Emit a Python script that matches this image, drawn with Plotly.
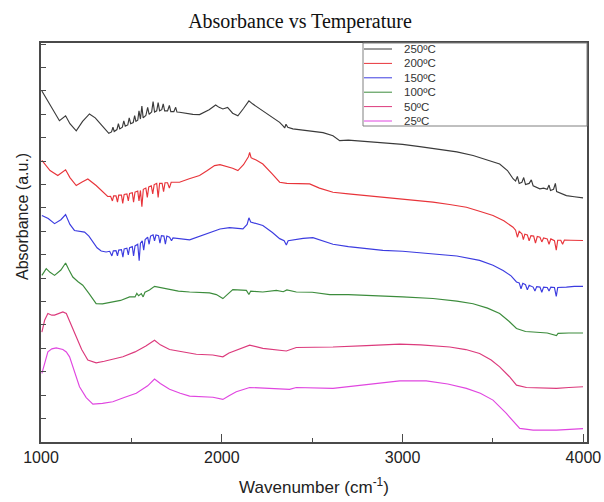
import plotly.graph_objects as go

# ---------------- data ----------------
names = ["250ºC", "200ºC", "150ºC", "100ºC", "50ºC", "25ºC"]
colors = ["#3a3a3a", "#e8343a", "#3c3ce0", "#3c8c3c", "#dc3a7c", "#e046e0"]

wn_250 = [1005, 1050, 1102, 1136, 1160, 1195, 1230, 1268, 1300, 1340, 1375,
          1390, 1398, 1405, 1420, 1428, 1436, 1450, 1458, 1466, 1480, 1488, 1496, 1510, 1518, 1525,
          1535, 1542, 1550, 1558, 1565, 1580, 1590, 1598, 1612, 1620, 1628, 1640, 1648, 1656,
          1668, 1676, 1684, 1700, 1710, 1718, 1735, 1745, 1752, 1766,
          1800, 1840, 1877, 1930, 1966, 1985, 2006, 2032, 2060, 2089, 2120, 2150, 2170, 2227,
          2280, 2320, 2340, 2348, 2355, 2365, 2393, 2450, 2504, 2560, 2615, 2652, 2700, 2800,
          2900, 3000, 3095, 3200, 3300, 3390, 3470, 3537, 3580, 3611,
          3625, 3635, 3645, 3660, 3670, 3680, 3700, 3712, 3722, 3740, 3759, 3780, 3800, 3810,
          3818, 3835, 3845, 3852, 3870, 3906, 3950, 3998]
abs_250 = [15.0, 14.4, 13.73, 13.94, 13.6, 13.30, 13.7, 14.02, 13.85, 13.5, 13.19,
           13.25, 13.45, 13.27, 13.35, 13.6, 13.38, 13.45, 13.72, 13.5, 13.55, 13.85, 13.6, 13.65, 13.95, 13.7,
           13.75, 14.15, 13.8, 14.35, 13.85, 13.95, 14.3, 14.0, 14.1, 14.55, 14.1, 14.15, 14.5, 14.15,
           14.2, 14.45, 14.15, 14.15, 14.38, 14.12, 14.12, 14.3, 14.1, 14.09,
           14.05, 14.0, 13.99, 14.2, 14.40, 14.3, 14.23, 14.30, 14.05, 13.94, 14.25, 14.58, 14.45, 14.16,
           13.9, 13.66, 13.5, 13.42, 13.58, 13.45, 13.38, 13.33, 13.30, 13.22, 13.09, 12.88, 12.9, 12.84,
           12.75, 12.72, 12.62, 12.5, 12.4, 12.24, 12.05, 11.88, 11.6, 11.25,
           11.15, 11.35, 11.05, 11.1, 11.3, 11.0, 11.05, 11.2, 10.95, 10.9, 10.82, 10.85, 10.8, 10.98,
           10.75, 10.8, 11.05, 10.7, 10.65, 10.53, 10.48, 10.43]

wn_200 = [1005, 1050, 1093, 1136, 1160, 1195, 1225, 1259, 1305, 1340, 1369,
          1385, 1395, 1402, 1415, 1423, 1430, 1445, 1452, 1460, 1475, 1483, 1490, 1505, 1512, 1520,
          1535, 1542, 1550, 1558, 1566, 1580, 1588, 1596, 1610, 1618, 1626, 1640, 1648, 1656,
          1670, 1678, 1686, 1700, 1710, 1720, 1766,
          1820, 1877, 1920, 1960, 1990, 2025, 2060, 2089, 2120, 2148, 2154, 2162, 2170, 2190, 2227,
          2280, 2320, 2360, 2412, 2486, 2540, 2615, 2700, 2800, 2950, 3168, 3260, 3353, 3430, 3500,
          3560, 3611,
          3625, 3635, 3645, 3660, 3668, 3676, 3690, 3700, 3710, 3725, 3735, 3745, 3760, 3770, 3780,
          3800, 3810, 3820, 3840, 3850, 3858, 3875, 3885, 3895, 3930, 3998]
abs_200 = [12.03, 11.6, 11.39, 11.63, 11.3, 10.96, 11.1, 11.24, 10.96, 10.7, 10.49,
           10.5, 10.3, 10.52, 10.52, 10.25, 10.55, 10.55, 10.2, 10.58, 10.6, 10.3, 10.62, 10.65, 10.25, 10.68,
           10.72, 10.3, 10.75, 10.05, 10.8, 10.85, 10.45, 10.9, 10.95, 10.6, 11.0, 11.05, 10.45, 11.05,
           11.05, 10.7, 11.08, 11.08, 10.85, 11.1, 11.10,
           11.25, 11.39, 11.6, 11.81, 11.85, 11.77, 11.7, 11.60, 11.85, 12.2, 12.38, 12.15, 12.11, 12.05, 11.88,
           11.45, 11.10, 11.05, 11.03, 11.03, 10.85, 10.67, 10.6, 10.53, 10.4, 10.25, 10.15, 10.03, 9.85, 9.68,
           9.45, 9.18,
           9.05, 8.75, 9.0, 8.9, 8.65, 8.88, 8.85, 8.6, 8.82, 8.8, 8.5, 8.78, 8.75, 8.55, 8.72,
           8.68, 8.45, 8.68, 8.6, 8.2, 8.62, 8.62, 8.45, 8.63, 8.62, 8.61]

wn_150 = [1005, 1040, 1075, 1110, 1136, 1160, 1185, 1215, 1241, 1265, 1287, 1310, 1333, 1360,
          1380, 1392, 1400, 1415, 1423, 1430, 1445, 1453, 1460, 1475, 1483, 1490, 1505, 1512, 1520,
          1535, 1543, 1550, 1560, 1568, 1576, 1590, 1598, 1606, 1620, 1628, 1636, 1650, 1658, 1666,
          1680, 1688, 1696, 1711, 1722, 1730,
          1822, 1880, 1932, 1990, 2043, 2117, 2140, 2150, 2160, 2227, 2280, 2320, 2345, 2357, 2367,
          2393, 2450, 2504, 2560, 2615, 2700, 2891, 3000, 3168, 3300, 3426, 3500, 3556, 3600, 3630,
          3645, 3655, 3665, 3680, 3690, 3700, 3722, 3732, 3742, 3760, 3770, 3780, 3800, 3810, 3820,
          3840, 3850, 3858, 3880, 3906, 3950, 3998]
abs_150 = [9.68, 9.55, 9.33, 9.5, 9.72, 9.3, 9.04, 9.0, 8.97, 8.8, 8.54, 8.3, 8.16, 8.12,
           8.15, 7.95, 8.17, 8.18, 7.95, 8.2, 8.22, 7.9, 8.25, 8.28, 8.0, 8.3, 8.35, 7.95, 8.38,
           8.45, 7.75, 8.5, 8.6, 8.2, 8.65, 8.75, 8.45, 8.8, 8.85, 8.6, 8.85, 8.82, 8.5, 8.82,
           8.8, 8.45, 8.8, 8.75, 8.6, 8.72,
           8.64, 8.8, 8.97, 9.1, 9.16, 9.11, 9.3, 9.58, 9.4, 9.25, 8.95, 8.69, 8.6, 8.42, 8.6,
           8.64, 8.7, 8.73, 8.6, 8.45, 8.35, 8.19, 8.15, 8.05, 7.95, 7.76, 7.55, 7.33, 7.1, 6.84,
           6.8, 6.55, 6.78, 6.72, 6.5, 6.7, 6.62, 6.45, 6.64, 6.62, 6.4, 6.62, 6.6, 6.45, 6.62,
           6.6, 6.22, 6.6, 6.6, 6.62, 6.65, 6.65]

wn_100 = [1005, 1029, 1050, 1075, 1110, 1136, 1155, 1176, 1205, 1231, 1265, 1305, 1340, 1397,
          1440, 1490, 1520, 1530, 1540, 1555, 1565, 1575, 1600, 1628, 1660, 1711, 1760, 1822, 1880,
          1932, 1970, 2006, 2030, 2061, 2136, 2150, 2160, 2227, 2302, 2340, 2360, 2412, 2500, 2597,
          2700, 2800, 2900, 3000, 3168, 3300, 3390, 3470, 3537, 3590, 3630, 3680, 3722, 3800, 3851,
          3860, 3920, 3998]
abs_100 = [7.12, 7.41, 7.25, 7.12, 7.35, 7.65, 7.35, 7.05, 6.85, 6.70, 6.35, 5.91, 5.9, 5.98,
           6.05, 6.20, 6.2, 6.35, 6.25, 6.34, 6.2, 6.4, 6.5, 6.65, 6.6, 6.51, 6.45, 6.41, 6.4,
           6.37, 6.3, 6.13, 6.3, 6.51, 6.48, 6.3, 6.45, 6.41, 6.48, 6.42, 6.5, 6.41, 6.4, 6.30,
           6.3, 6.27, 6.25, 6.2, 6.13, 6.02, 5.91, 5.72, 5.49, 5.15, 4.85, 4.72, 4.70, 4.66, 4.55,
           4.64, 4.66, 4.66]

wn_50 = [1005, 1020, 1038, 1060, 1075, 1100, 1121, 1140, 1165, 1195, 1225, 1259, 1305, 1350,
         1400, 1453, 1520, 1580, 1628, 1660, 1711, 1780, 1859, 1950, 2006, 2040, 2080, 2154, 2227,
         2300, 2357, 2412, 2500, 2615, 2800, 2984, 3100, 3261, 3350, 3426, 3490, 3537, 3590, 3630,
         3685, 3760, 3851, 3920, 3998]
abs_50 = [4.70, 5.2, 5.49, 5.42, 5.42, 5.5, 5.56, 5.49, 5.05, 4.49, 3.95, 3.50, 3.38, 3.45,
          3.55, 3.64, 3.85, 4.1, 4.35, 4.15, 3.95, 3.85, 3.75, 3.72, 3.64, 3.8, 3.92, 4.14, 4.00,
          3.95, 3.89, 4.04, 4.05, 4.06, 4.12, 4.18, 4.15, 4.06, 3.95, 3.78, 3.5, 3.21, 2.8, 2.43,
          2.33, 2.3, 2.29, 2.33, 2.36]

wn_25 = [1005, 1020, 1038, 1060, 1084, 1121, 1140, 1158, 1185, 1213, 1250, 1287, 1340, 1397,
         1460, 1527, 1590, 1628, 1660, 1711, 1770, 1822, 1951, 2006, 2040, 2080, 2154, 2265, 2375,
         2412, 2500, 2615, 2800, 2984, 3131, 3250, 3353, 3430, 3500, 3574, 3648, 3722, 3851, 3920,
         3998]
abs_25 = [2.93, 3.4, 3.85, 3.98, 4.02, 3.95, 3.85, 3.64, 3.0, 2.36, 1.9, 1.62, 1.65, 1.72,
          1.9, 2.08, 2.4, 2.69, 2.5, 2.25, 2.08, 1.96, 1.91, 1.82, 1.98, 2.15, 2.33, 2.29, 2.25,
          2.33, 2.32, 2.29, 2.45, 2.61, 2.61, 2.48, 2.29, 2.08, 1.79, 1.22, 0.58, 0.51, 0.51, 0.54,
          0.57]

x_ticks = [1000, 2000, 3000, 4000]
x_minor_ticks = [1500, 2500, 3500]

series_x = [wn_250, wn_200, wn_150, wn_100, wn_50, wn_25]
series_y = [abs_250, abs_200, abs_150, abs_100, abs_50, abs_25]

# ---------------- figure ----------------
fig = go.Figure()
for name, xs, ys, c in zip(names, series_x, series_y, colors):
    fig.add_trace(go.Scatter(x=xs, y=ys, mode="lines", name=name,
                             line=dict(color=c, width=1.15), showlegend=False))

W, H = 604, 502
L, R, T, B = 41, 17, 43, 60
pw, ph = W - L - R, H - T - B

def px2x(px):
    return (px - L) / pw

def py2y(py):
    return (H - B - py) / ph

axis_col = "#4a4a4a"
font_sans = "Liberation Sans, Arial, sans-serif"

fig.update_layout(
    width=W, height=H,
    margin=dict(l=L, r=R, t=T, b=B, autoexpand=False),
    paper_bgcolor="white", plot_bgcolor="white",
    title=dict(text="Absorbance vs Temperature", x=300 / W, xref="container",
               y=1 - 21 / H, yref="container", xanchor="center", yanchor="middle",
               automargin=False,
               font=dict(family="Liberation Serif, Times New Roman, serif", size=20, color="#111")),
    xaxis=dict(range=[1000, 4020], tickvals=x_ticks, ticks="inside", ticklen=8, tickwidth=1,
               tickcolor=axis_col, showline=True, linecolor=axis_col, linewidth=1.5, mirror=True,
               showgrid=False, zeroline=False, automargin=False,
               minor=dict(tickvals=x_minor_ticks, ticks="inside", ticklen=4, tickcolor=axis_col, showgrid=False),
               tickfont=dict(family=font_sans, size=16, color="#222"),
               title=dict(text="Wavenumber (cm<sup>-1</sup>)", standoff=16,
                          font=dict(family=font_sans, size=17, color="#222"))),
    yaxis=dict(range=[0, 17.05], tick0=0, dtick=1, ticks="inside", ticklen=5, tickwidth=1,
               tickcolor=axis_col, showticklabels=False, showline=True, linecolor=axis_col,
               linewidth=1.5, mirror=True, showgrid=False, zeroline=False, automargin=False),
)

fig.add_annotation(text="Absorbance (a.u.)", xref="paper", yref="paper",
                   x=px2x(22), y=py2y(217), textangle=-90, showarrow=False,
                   xanchor="center", yanchor="middle",
                   font=dict(family=font_sans, size=16, color="#222"))

# legend box (drawn with shapes/annotations to match the compact layout)
fig.add_shape(type="rect", xref="paper", yref="paper", x0=px2x(363), x1=1.0,
              y0=py2y(126), y1=1.0, line=dict(color="#808080", width=1),
              fillcolor="white", layer="above")
row_py0, row_step = 49, 14.4
for i, (name, c) in enumerate(zip(names, colors)):
    yy = py2y(row_py0 + i * row_step)
    fig.add_shape(type="line", xref="paper", yref="paper", x0=px2x(364), x1=px2x(392),
                  y0=yy, y1=yy, line=dict(color=c, width=1), layer="above")
    fig.add_annotation(text=name, xref="paper", yref="paper", x=px2x(402), y=yy,
                       xanchor="left", yanchor="middle", showarrow=False,
                       font=dict(family=font_sans, size=11.5, color="#333"))

fig.write_html("out.html", config={"displayModeBar": False},
               post_script="document.body.style.margin='0';document.body.style.overflow='hidden';")
